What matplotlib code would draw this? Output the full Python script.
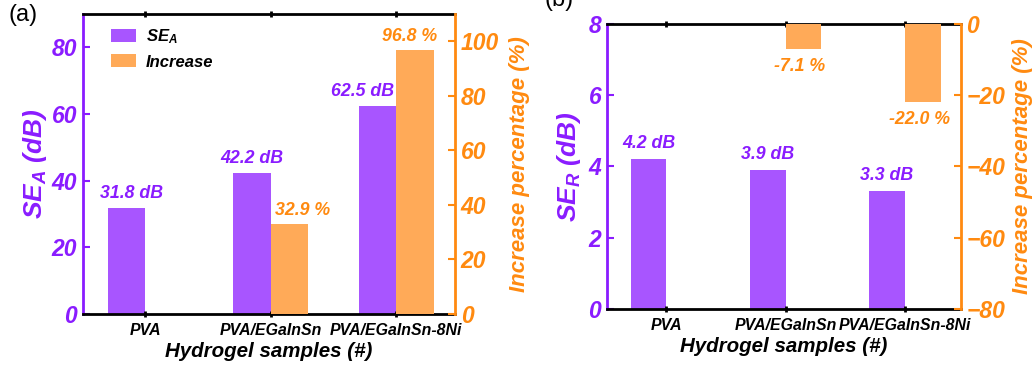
import numpy as np
import matplotlib
matplotlib.use("Agg")
import matplotlib.pyplot as plt

categories = ["PVA", "PVA/EGaInSn", "PVA/EGaInSn-8Ni"]
se_a = [31.8, 42.2, 62.5]
inc_a = [np.nan, 32.9, 96.8]
se_r = [4.2, 3.9, 3.3]
inc_r = [np.nan, -7.1, -22.0]

PURPLE = "#8a1cff"
ORANGE = "#ff8a10"
BAR_P = "#a855ff"
BAR_O = "#ffaa58"
FONT = "Liberation Sans"
BI = dict(family=FONT, weight="bold", style="italic")

plt.rcParams['font.family'] = [FONT, 'DejaVu Sans']
plt.rcParams['mathtext.fontset'] = 'custom'
plt.rcParams['mathtext.it'] = 'Liberation Sans:italic:bold'
plt.rcParams['mathtext.rm'] = 'Liberation Sans:bold'

fig = plt.figure(figsize=(10.32, 3.69), dpi=100)
axA = fig.add_axes([0.080, 0.149, 0.361, 0.813])
axB = fig.add_axes([0.588, 0.163, 0.343, 0.772])

w = 0.3
x = np.arange(len(categories))


def style(ax, ax2, lab_left, ylim, ylim2, yt, yt2, lpad_left, lpad_right):
    ax.set_xlim(-0.5, 2.47)
    ax.set_ylim(*ylim)
    ax2.set_ylim(*ylim2)
    ax.set_yticks(yt)
    ax2.set_yticks(yt2)
    ax.set_xticks(x)
    ax.set_xticklabels(categories, fontsize=11.4, **BI)
    for sp in ("top", "bottom"):
        ax.spines[sp].set_linewidth(2)
        ax.spines[sp].set_color("black")
    ax.spines["left"].set_color(PURPLE)
    ax.spines["left"].set_linewidth(2)
    ax2.spines["left"].set_visible(False)
    ax2.spines["top"].set_visible(False)
    ax2.spines["bottom"].set_visible(False)
    ax.spines["right"].set_visible(False)
    ax2.spines["right"].set_color(ORANGE)
    ax2.spines["right"].set_linewidth(2)
    ax.tick_params(axis="x", direction="inout", length=5, width=2, top=True, color="black", pad=4)
    ax.tick_params(axis="y", direction="in", length=5, width=1.5, colors=PURPLE, labelsize=16.5, pad=4)
    ax2.tick_params(axis="y", direction="in", length=5, width=1.5, colors=ORANGE, labelsize=16.5, pad=4)
    for t in ax.get_yticklabels():
        t.set_fontweight("bold"); t.set_fontstyle("italic"); t.set_color(PURPLE)
    for t in ax2.get_yticklabels():
        t.set_fontweight("bold"); t.set_fontstyle("italic"); t.set_color(ORANGE)
    ax.set_ylabel(lab_left, fontsize=19, color=PURPLE, labelpad=lpad_left, **BI)
    ax2.set_ylabel("Increase percentage (%)", fontsize=16, color=ORANGE, labelpad=lpad_right, **BI)
    ax.set_xlabel("Hydrogel samples (#)", fontsize=14.8, labelpad=3, **BI)


# Panel (a)
axA2 = axA.twinx()
bp = axA.bar(x - w / 2, se_a, w, color=BAR_P, label="$SE_A$")
bo = axA2.bar(x + w / 2, inc_a, w, color=BAR_O, label="Increase")
style(axA, axA2, "$SE_A$ (dB)", (0, 90), (0, 110), [0, 20, 40, 60, 80], [0, 20, 40, 60, 80, 100], 2, 7)
lab_dx_a = [0.04, 0.0, -0.12]
inc_dx_a = [0.0, 0.1, -0.04]
for xi, v, d in zip(x, se_a, lab_dx_a):
    axA.text(xi - w / 2 + d, v + 1.8, f"{v} dB", ha="center", va="bottom", fontsize=12.8, color=PURPLE, **BI)
for xi, v, d in zip(x, inc_a, inc_dx_a):
    if not np.isnan(v):
        axA2.text(xi + w / 2 + d, v + 2, f"{v} %", ha="center", va="bottom", fontsize=12.8, color=ORANGE, **BI)
leg = axA.legend(handles=[bp, bo], loc="upper left", frameon=False,
                 prop=dict(family=FONT, weight="bold", style="italic", size=12),
                 handlelength=1.5, handleheight=0.8, borderaxespad=0.4, bbox_to_anchor=(0.04, 1.0),
                 labelspacing=0.5, handletextpad=0.6)

# Panel (b)
axB2 = axB.twinx()
axB.bar(x - w / 2, se_r, w, color=BAR_P)
axB2.bar(x + w / 2, inc_r, w, color=BAR_O)
style(axB, axB2, "$SE_R$ (dB)", (0, 8), (-80, 0), [0, 2, 4, 6, 8], [-80, -60, -40, -20, 0], 4, 5)
for xi, v in zip(x, se_r):
    axB.text(xi - w / 2, v + 0.2, f"{v} dB", ha="center", va="bottom", fontsize=12.8, color=PURPLE, **BI)
for xi, v in zip(x, inc_r):
    if not np.isnan(v):
        axB2.text(xi + w / 2 - 0.03, v - 2.5, f"{v} %", ha="center", va="top", fontsize=12.8, color=ORANGE, **BI)

fig.text(0.008, 0.99, "(a)", fontsize=17, ha="left", va="top", family=FONT)
fig.text(0.528, 1.03, "(b)", fontsize=17, ha="left", va="top", family=FONT)
fig.text(0.012, -0.035, "(b)", fontsize=17, ha="left", va="center", family=FONT)

fig.savefig("out.png", dpi=100)
